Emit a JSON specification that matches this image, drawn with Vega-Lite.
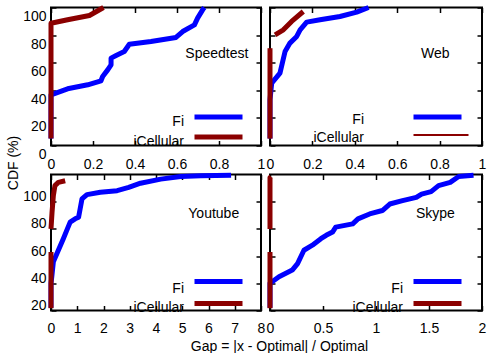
{
  "$schema": "https://vega.github.io/schema/vega-lite/v6.json",
  "padding": {"left": 5, "top": 3.5, "right": 0, "bottom": 0},
  "config": {
    "font": "Liberation Sans",
    "view": {"stroke": "black", "strokeWidth": 2},
    "axis": {"domain": false, "grid": false, "ticks": true, "tickSize": -5, "tickWidth": 1.5, "tickColor": "black", "tickCount": 20,
             "labelFont": "Liberation Sans", "labelFontSize": 14, "labelColor": "black", "labelFlush": false, "labelOverlap": false,
             "titleFont": "Liberation Sans", "titleFontSize": 14, "titleFontWeight": "normal", "titleColor": "black"},
    "legend": {"padding": 0, "rowPadding": 0, "clipHeight": 15, "symbolType": "stroke", "symbolSize": 2304, "symbolStrokeWidth": 5,
               "labelFont": "Liberation Sans", "labelFontSize": 14, "labelColor": "black", "labelAlign": "right", "labelOffset": -61}
  },
  "datasets": {
    "speedtest": [
      {"series": "Fi", "part": "a", "gap": 0, "cdf": 5},
      {"series": "Fi", "part": "a", "gap": 0, "cdf": 36.7},
      {"series": "Fi", "part": "a", "gap": 0.079, "cdf": 41.1},
      {"series": "Fi", "part": "a", "gap": 0.175, "cdf": 44.0},
      {"series": "Fi", "part": "a", "gap": 0.238, "cdf": 46.9},
      {"series": "Fi", "part": "a", "gap": 0.246, "cdf": 50.0},
      {"series": "Fi", "part": "a", "gap": 0.27, "cdf": 54.8},
      {"series": "Fi", "part": "a", "gap": 0.286, "cdf": 58.5},
      {"series": "Fi", "part": "a", "gap": 0.286, "cdf": 63.3},
      {"series": "Fi", "part": "a", "gap": 0.31, "cdf": 65.2},
      {"series": "Fi", "part": "a", "gap": 0.349, "cdf": 68.1},
      {"series": "Fi", "part": "a", "gap": 0.373, "cdf": 73.4},
      {"series": "Fi", "part": "a", "gap": 0.476, "cdf": 75.4},
      {"series": "Fi", "part": "a", "gap": 0.595, "cdf": 78.3},
      {"series": "Fi", "part": "a", "gap": 0.627, "cdf": 82.6},
      {"series": "Fi", "part": "a", "gap": 0.683, "cdf": 87.4},
      {"series": "Fi", "part": "a", "gap": 0.698, "cdf": 92.3},
      {"series": "Fi", "part": "a", "gap": 0.722, "cdf": 98.3},
      {"series": "Fi", "part": "a", "gap": 0.73, "cdf": 100},
      {"series": "iCellular", "part": "a", "gap": 0, "cdf": 5},
      {"series": "iCellular", "part": "a", "gap": 0, "cdf": 88.6},
      {"series": "iCellular", "part": "a", "gap": 0.079, "cdf": 91.1},
      {"series": "iCellular", "part": "a", "gap": 0.183, "cdf": 94.2},
      {"series": "iCellular", "part": "a", "gap": 0.25, "cdf": 100}
    ],
    "web": [
      {"series": "Fi", "part": "a", "gap": 0, "cdf": 5},
      {"series": "Fi", "part": "a", "gap": 0, "cdf": 33.1},
      {"series": "Fi", "part": "a", "gap": 0.008, "cdf": 45.2},
      {"series": "Fi", "part": "a", "gap": 0.047, "cdf": 52.4},
      {"series": "Fi", "part": "a", "gap": 0.071, "cdf": 68.1},
      {"series": "Fi", "part": "a", "gap": 0.094, "cdf": 74.2},
      {"series": "Fi", "part": "a", "gap": 0.126, "cdf": 79.0},
      {"series": "Fi", "part": "a", "gap": 0.142, "cdf": 83.8},
      {"series": "Fi", "part": "a", "gap": 0.173, "cdf": 89.4},
      {"series": "Fi", "part": "a", "gap": 0.236, "cdf": 91.1},
      {"series": "Fi", "part": "a", "gap": 0.33, "cdf": 93.5},
      {"series": "Fi", "part": "a", "gap": 0.409, "cdf": 96.6},
      {"series": "Fi", "part": "a", "gap": 0.465, "cdf": 100},
      {"series": "iCellular", "part": "a", "gap": 0, "cdf": 5},
      {"series": "iCellular", "part": "a", "gap": 0, "cdf": 70.5},
      {"series": "iCellular", "part": "b", "gap": 0.024, "cdf": 80.2},
      {"series": "iCellular", "part": "b", "gap": 0.063, "cdf": 83.8},
      {"series": "iCellular", "part": "b", "gap": 0.102, "cdf": 89.9},
      {"series": "iCellular", "part": "b", "gap": 0.157, "cdf": 97.1}
    ],
    "youtube": [
      {"series": "Fi", "part": "a", "gap": 0, "cdf": 22},
      {"series": "Fi", "part": "a", "gap": 0, "cdf": 40},
      {"series": "Fi", "part": "a", "gap": 0.03, "cdf": 44.8},
      {"series": "Fi", "part": "a", "gap": 0.09, "cdf": 55.8},
      {"series": "Fi", "part": "a", "gap": 0.28, "cdf": 64.3},
      {"series": "Fi", "part": "a", "gap": 0.47, "cdf": 72.8},
      {"series": "Fi", "part": "a", "gap": 0.6, "cdf": 78.9},
      {"series": "Fi", "part": "a", "gap": 0.73, "cdf": 85.0},
      {"series": "Fi", "part": "a", "gap": 0.92, "cdf": 87.4},
      {"series": "Fi", "part": "a", "gap": 1.05, "cdf": 88.6},
      {"series": "Fi", "part": "a", "gap": 1.11, "cdf": 94.7},
      {"series": "Fi", "part": "a", "gap": 1.18, "cdf": 102},
      {"series": "Fi", "part": "a", "gap": 1.37, "cdf": 105.2},
      {"series": "Fi", "part": "a", "gap": 1.88, "cdf": 106.9},
      {"series": "Fi", "part": "a", "gap": 2.52, "cdf": 108.1},
      {"series": "Fi", "part": "a", "gap": 2.96, "cdf": 110.5},
      {"series": "Fi", "part": "a", "gap": 3.41, "cdf": 113.6},
      {"series": "Fi", "part": "a", "gap": 4.18, "cdf": 116.6},
      {"series": "Fi", "part": "a", "gap": 4.94, "cdf": 118.5},
      {"series": "Fi", "part": "a", "gap": 5.71, "cdf": 119.0},
      {"series": "Fi", "part": "a", "gap": 6.86, "cdf": 119.5},
      {"series": "iCellular", "part": "a", "gap": 0, "cdf": 21.7},
      {"series": "iCellular", "part": "a", "gap": 0, "cdf": 63},
      {"series": "iCellular", "part": "b", "gap": 0, "cdf": 80},
      {"series": "iCellular", "part": "b", "gap": 0.04, "cdf": 92.3},
      {"series": "iCellular", "part": "b", "gap": 0.09, "cdf": 104.5},
      {"series": "iCellular", "part": "b", "gap": 0.15, "cdf": 111.8},
      {"series": "iCellular", "part": "b", "gap": 0.28, "cdf": 114.2},
      {"series": "iCellular", "part": "b", "gap": 0.54, "cdf": 115.4}
    ],
    "skype": [
      {"series": "Fi", "part": "a", "gap": 0, "cdf": 22},
      {"series": "Fi", "part": "a", "gap": 0, "cdf": 40},
      {"series": "Fi", "part": "a", "gap": 0.02, "cdf": 41.2},
      {"series": "Fi", "part": "a", "gap": 0.085, "cdf": 44.8},
      {"series": "Fi", "part": "a", "gap": 0.21, "cdf": 49.7},
      {"series": "Fi", "part": "a", "gap": 0.26, "cdf": 54.5},
      {"series": "Fi", "part": "a", "gap": 0.32, "cdf": 64.3},
      {"series": "Fi", "part": "a", "gap": 0.40, "cdf": 68.0},
      {"series": "Fi", "part": "a", "gap": 0.48, "cdf": 72.8},
      {"series": "Fi", "part": "a", "gap": 0.53, "cdf": 75.3},
      {"series": "Fi", "part": "a", "gap": 0.59, "cdf": 77.7},
      {"series": "Fi", "part": "a", "gap": 0.62, "cdf": 81.3},
      {"series": "Fi", "part": "a", "gap": 0.78, "cdf": 83.7},
      {"series": "Fi", "part": "a", "gap": 0.83, "cdf": 87.4},
      {"series": "Fi", "part": "a", "gap": 0.94, "cdf": 91.0},
      {"series": "Fi", "part": "a", "gap": 1.06, "cdf": 93.5},
      {"series": "Fi", "part": "a", "gap": 1.13, "cdf": 98.3},
      {"series": "Fi", "part": "a", "gap": 1.25, "cdf": 100.8},
      {"series": "Fi", "part": "a", "gap": 1.38, "cdf": 103.2},
      {"series": "Fi", "part": "a", "gap": 1.43, "cdf": 105.6},
      {"series": "Fi", "part": "a", "gap": 1.52, "cdf": 107.4},
      {"series": "Fi", "part": "a", "gap": 1.59, "cdf": 111.8},
      {"series": "Fi", "part": "a", "gap": 1.70, "cdf": 114.2},
      {"series": "Fi", "part": "a", "gap": 1.78, "cdf": 118.5},
      {"series": "Fi", "part": "a", "gap": 1.92, "cdf": 119.5},
      {"series": "iCellular", "part": "a", "gap": 0, "cdf": 21.7},
      {"series": "iCellular", "part": "a", "gap": 0, "cdf": 63},
      {"series": "iCellular", "part": "b", "gap": 0, "cdf": 80},
      {"series": "iCellular", "part": "b", "gap": 0, "cdf": 117.8},
      {"series": "iCellular", "part": "b", "gap": 0.01, "cdf": 118.5}
    ]
  },
  "bounds": "flush",
  "columns": 2,
  "spacing": {"row": 29, "column": 9},
  "resolve": {"scale": {"x": "independent", "y": "independent", "color": "independent"}},
  "concat": [
    {
      "width": 210, "height": 138,
      "resolve": {"scale": {"x": "independent", "y": "independent"}},
      "layer": [
        {"layer": [
          {"data": {"name": "speedtest"},
           "mark": {"type": "line", "strokeWidth": 5, "strokeJoin": "round", "strokeCap": "butt"},
           "encoding": {
             "x": {"field": "gap", "type": "quantitative", "scale": {"domain": [0, 1], "nice": false, "zero": false},
                   "axis": {"orient": "bottom", "values": [0, 0.2, 0.4, 0.6, 0.8, 1], "tickCount": 20, "format": "~g", "labelPadding": 17, "labelOverlap": false, "title": null}},
             "y": {"field": "cdf", "type": "quantitative", "scale": {"domain": [0, 100], "nice": false, "zero": false},
                   "axis": {"orient": "left", "values": [0, 20, 40, 60, 80, 100], "tickCount": 20, "labelPadding": 10, "labelOffset": 9, "labelOverlap": false,
                            "title": "CDF (%)", "titleX": -38, "titleY": 155, "titleBaseline": "middle", "titleAngle": 270}},
             "color": {"field": "series", "type": "nominal", "scale": {"domain": ["Fi", "iCellular"], "range": ["#0000ff", "#8b0000"]},
                       "legend": {"title": null, "orient": "none", "legendX": 141, "legendY": 102,
                                  "encode": {"labels": {"update": {"dy": {"value": 5}}}, "entries": {"update": {"width": {"value": 56}}}}}},
             "detail": {"field": "part"},
             "order": {"value": null}
           }},
          {"data": {"values": [{"label": "Speedtest"}]},
           "mark": {"type": "text", "font": "Liberation Sans", "fontSize": 14, "align": "center", "baseline": "middle", "color": "black"},
           "encoding": {"x": {"datum": 0.79, "type": "quantitative"}, "y": {"datum": 66, "type": "quantitative"}, "text": {"field": "label"}}}
        ]},
        {"data": {"values": [{}]},
         "mark": {"type": "point", "opacity": 0},
         "encoding": {
           "x": {"datum": 0, "type": "quantitative", "scale": {"domain": [0, 1], "nice": false, "zero": false},
                 "axis": {"orient": "top", "values": [0, 0.2, 0.4, 0.6, 0.8, 1], "tickCount": 20, "labels": false, "title": null}},
           "y": {"datum": 0, "type": "quantitative", "scale": {"domain": [0, 100], "nice": false, "zero": false},
                 "axis": {"orient": "right", "values": [0, 20, 40, 60, 80, 100], "tickCount": 20, "labels": false, "title": null}}
         }}
      ]
    },
    {
      "width": 212, "height": 138,
      "resolve": {"scale": {"x": "independent", "y": "independent"}},
      "layer": [
        {"layer": [
          {"data": {"name": "web"},
           "mark": {"type": "line", "strokeWidth": 5, "strokeJoin": "round", "strokeCap": "butt"},
           "encoding": {
             "x": {"field": "gap", "type": "quantitative", "scale": {"domain": [0, 1], "nice": false, "zero": false},
                   "axis": {"orient": "bottom", "values": [0, 0.2, 0.4, 0.6, 0.8, 1], "tickCount": 20, "format": "~g", "labelPadding": 17, "labelOverlap": false, "title": null}},
             "y": {"field": "cdf", "type": "quantitative", "scale": {"domain": [0, 100], "nice": false, "zero": false},
                   "axis": {"orient": "left", "values": [0, 20, 40, 60, 80, 100], "tickCount": 20, "labels": false, "title": null}},
             "color": {"field": "series", "type": "nominal", "scale": {"domain": ["Fi", "iCellular"], "range": ["#0000ff", "#8b0000"]},
                       "legend": {"title": null, "orient": "none", "legendX": 141, "legendY": 102,
                                  "encode": {"labels": {"update": {"dy": {"value": 3}}},
                                             "entries": {"update": {"width": {"value": 64}}},
                                             "symbols": {"update": {"strokeWidth": {"signal": "datum.value === 'iCellular' ? 2 : 5"},
                                                                    "x": {"signal": "datum.value === 'iCellular' ? 30 : 26.5"},
                                                                    "size": {"signal": "datum.value === 'iCellular' ? 3025 : 2304"}}}}}},
             "detail": {"field": "part"},
             "order": {"value": null}
           }},
          {"data": {"values": [{"label": "Web"}]},
           "mark": {"type": "text", "font": "Liberation Sans", "fontSize": 14, "align": "center", "baseline": "middle", "color": "black"},
           "encoding": {"x": {"datum": 0.78, "type": "quantitative"}, "y": {"datum": 66, "type": "quantitative"}, "text": {"field": "label"}}}
        ]},
        {"data": {"values": [{}]},
         "mark": {"type": "point", "opacity": 0},
         "encoding": {
           "x": {"datum": 0, "type": "quantitative", "scale": {"domain": [0, 1], "nice": false, "zero": false},
                 "axis": {"orient": "top", "values": [0, 0.2, 0.4, 0.6, 0.8, 1], "tickCount": 20, "labels": false, "title": null}},
           "y": {"datum": 0, "type": "quantitative", "scale": {"domain": [0, 100], "nice": false, "zero": false},
                 "axis": {"orient": "right", "values": [0, 20, 40, 60, 80, 100], "tickCount": 20, "labels": false, "title": null}}
         }}
      ]
    },
    {
      "width": 210, "height": 136,
      "resolve": {"scale": {"x": "independent", "y": "independent"}},
      "layer": [
        {"layer": [
          {"data": {"name": "youtube"},
           "mark": {"type": "line", "strokeWidth": 5, "strokeJoin": "round", "strokeCap": "butt"},
           "encoding": {
             "x": {"field": "gap", "type": "quantitative", "scale": {"domain": [0, 8], "nice": false, "zero": false},
                   "axis": {"orient": "bottom", "values": [0, 1, 2, 3, 4, 5, 6, 7, 8], "tickCount": 20, "format": "~g", "labelPadding": 16, "labelOverlap": false,
                            "title": "Gap = |x - Optimal| / Optimal", "titleX": 228, "titleY": 36, "titleBaseline": "middle", "titleAnchor": "middle"}},
             "y": {"field": "cdf", "type": "quantitative", "scale": {"domain": [20, 120], "nice": false, "zero": false},
                   "axis": {"orient": "left", "values": [20, 40, 60, 80, 100], "tickCount": 20, "labelPadding": 10, "labelOffset": -5, "labelOverlap": false, "title": null}},
             "color": {"field": "series", "type": "nominal", "scale": {"domain": ["Fi", "iCellular"], "range": ["#0000ff", "#8b0000"]},
                       "legend": {"title": null, "orient": "none", "legendX": 141, "legendY": 99.5,
                                  "encode": {"labels": {"update": {"dy": {"signal": "datum.value === 'iCellular' ? 4 : 7"}}}, "entries": {"update": {"width": {"value": 56}}}}}},
             "detail": {"field": "part"},
             "order": {"value": null}
           }},
          {"data": {"values": [{"label": "Youtube"}]},
           "mark": {"type": "text", "font": "Liberation Sans", "fontSize": 14, "align": "center", "baseline": "middle", "color": "black"},
           "encoding": {"x": {"datum": 6.2, "type": "quantitative"}, "y": {"datum": 90.8, "type": "quantitative"}, "text": {"field": "label"}}}
        ]},
        {"data": {"values": [{}]},
         "mark": {"type": "point", "opacity": 0},
         "encoding": {
           "x": {"datum": 0, "type": "quantitative", "scale": {"domain": [0, 8], "nice": false, "zero": false},
                 "axis": {"orient": "top", "values": [0, 1, 2, 3, 4, 5, 6, 7, 8], "tickCount": 20, "labels": false, "title": null}},
           "y": {"datum": 20, "type": "quantitative", "scale": {"domain": [20, 120], "nice": false, "zero": false},
                 "axis": {"orient": "right", "values": [20, 40, 60, 80, 100], "tickCount": 20, "labels": false, "title": null}}
         }}
      ]
    },
    {
      "width": 212, "height": 136,
      "resolve": {"scale": {"x": "independent", "y": "independent"}},
      "layer": [
        {"layer": [
          {"data": {"name": "skype"},
           "mark": {"type": "line", "strokeWidth": 5, "strokeJoin": "round", "strokeCap": "butt"},
           "encoding": {
             "x": {"field": "gap", "type": "quantitative", "scale": {"domain": [0, 2], "nice": false, "zero": false},
                   "axis": {"orient": "bottom", "values": [0, 0.5, 1, 1.5, 2], "tickCount": 20, "format": "~g", "labelPadding": 16, "labelOverlap": false, "title": null}},
             "y": {"field": "cdf", "type": "quantitative", "scale": {"domain": [20, 120], "nice": false, "zero": false},
                   "axis": {"orient": "left", "values": [20, 40, 60, 80, 100], "tickCount": 20, "labels": false, "title": null}},
             "color": {"field": "series", "type": "nominal", "scale": {"domain": ["Fi", "iCellular"], "range": ["#0000ff", "#8b0000"]},
                       "legend": {"title": null, "orient": "none", "legendX": 141, "legendY": 99.5,
                                  "encode": {"labels": {"update": {"dy": {"signal": "datum.value === 'iCellular' ? 4 : 7"}}}, "entries": {"update": {"width": {"value": 56}}}}}},
             "detail": {"field": "part"},
             "order": {"value": null}
           }},
          {"data": {"values": [{"label": "Skype"}]},
           "mark": {"type": "text", "font": "Liberation Sans", "fontSize": 14, "align": "center", "baseline": "middle", "color": "black"},
           "encoding": {"x": {"datum": 1.56, "type": "quantitative"}, "y": {"datum": 90.8, "type": "quantitative"}, "text": {"field": "label"}}}
        ]},
        {"data": {"values": [{}]},
         "mark": {"type": "point", "opacity": 0},
         "encoding": {
           "x": {"datum": 0, "type": "quantitative", "scale": {"domain": [0, 2], "nice": false, "zero": false},
                 "axis": {"orient": "top", "values": [0, 0.5, 1, 1.5, 2], "tickCount": 20, "labels": false, "title": null}},
           "y": {"datum": 20, "type": "quantitative", "scale": {"domain": [20, 120], "nice": false, "zero": false},
                 "axis": {"orient": "right", "values": [20, 40, 60, 80, 100], "tickCount": 20, "labels": false, "title": null}}
         }}
      ]
    }
  ]
}
